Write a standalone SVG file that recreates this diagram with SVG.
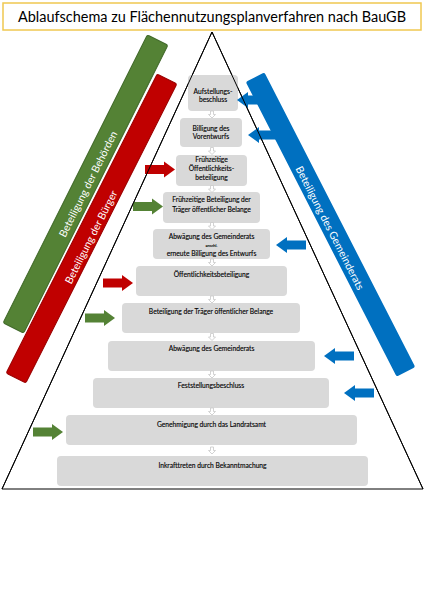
<svg xmlns="http://www.w3.org/2000/svg" width="424" height="600" viewBox="0 0 424 600">
<defs>
<style>
.box{fill:#d9d9d9;}
.t{font-family:Lato,"Liberation Sans",sans-serif;font-size:6.7px;fill:#000000;text-anchor:middle;stroke:#000000;stroke-width:0.12px;}
.s{font-size:4px;}
.bt{font-family:Lato,"Liberation Sans",sans-serif;font-size:10.5px;fill:#ffffff;text-anchor:middle;}
.tri{fill:none;stroke:#000;stroke-width:1;}
.down{fill:#ffffff;stroke:#c8c8c8;stroke-width:0.8;}
.red{fill:#c00000;}
.green{fill:#548235;}
.blue{fill:#0070c0;}
</style>
<path id="arr" d="M0,-4.5 H19 V-8 L30,0 L19,8 V4.5 H0 Z"/>
<path id="dn" d="M-1.5,-3.5 H1.5 V0 H3.5 L0,3.5 L-3.5,0 H-1.5 Z"/>
</defs>
<rect x="0" y="0" width="424" height="600" fill="#ffffff"/>
<g id="title">
<rect x="3" y="3" width="418" height="27" fill="#ffffff" stroke="#f0c850" stroke-width="1.5"/>
<text x="212" y="21.5" font-family="Lato,'Liberation Sans',sans-serif" font-size="14.5" fill="#000" text-anchor="middle" textLength="388" lengthAdjust="spacingAndGlyphs">Ablaufschema zu Flächennutzungsplanverfahren nach BauGB</text>
</g>
<g id="triangle">
<polygon class="tri" points="212,32 2,489 423,489"/>
</g>
<g id="bar-behoerden">
<rect class="green" x="-161" y="-11.5" width="322" height="23" rx="2" transform="translate(85.5,184) rotate(-63.4)" stroke="#41692a" stroke-width="1"/>
<text class="bt" transform="translate(88,184) rotate(-63.4)" y="3.8">Beteiligung der Behörden</text>
</g>
<g id="bar-buerger">
<rect class="red" x="-167.5" y="-11" width="335" height="22" rx="2" transform="translate(91.5,228.5) rotate(-63.2)" stroke="#9a0000" stroke-width="1"/>
<text class="bt" transform="translate(91,237) rotate(-63.2)" y="3.8">Beteiligung der Bürger</text>
</g>
<g id="bar-gemeinderat">
<rect class="blue" x="-165.5" y="-10.5" width="331" height="21" rx="2" transform="translate(330.5,224.5) rotate(62.9)"/>
<text class="bt" transform="translate(330,228) rotate(62.9)" y="3.8">Beteiligung des Gemeinderats</text>
</g>
<g id="n1"><rect class="box" x="188" y="75" width="50" height="36" rx="4"/><text class="t" x="213" y="93.5">Aufstellungs-</text><text class="t" x="213" y="101.5">beschluss</text></g>
<g id="n2"><rect class="box" x="180" y="118" width="62" height="29" rx="4"/><text class="t" x="211" y="130.5">Billigung des</text><text class="t" x="211" y="138.5">Vorentwurfs</text></g>
<g id="n3"><rect class="box" x="176" y="155" width="71" height="31" rx="4"/><text class="t" x="211.5" y="162">Frühzeitige</text><text class="t" x="211.5" y="171">Öffentlichkeits-</text><text class="t" x="211.5" y="180">beteiligung</text></g>
<g id="n4"><rect class="box" x="163" y="192" width="97" height="31" rx="4"/><text class="t" x="211.5" y="202">Frühzeitige Beteiligung der</text><text class="t" x="211.5" y="211.5">Träger öffentlicher Belange</text></g>
<g id="n5"><rect class="box" x="153" y="229" width="117" height="30" rx="4"/><text class="t" x="211.5" y="239">Abwägung des Gemeinderats</text><text class="t s" x="211.5" y="246.5">anschl.</text><text class="t" x="211.5" y="255.5">erneute Billigung des Entwurfs</text></g>
<g id="n6"><rect class="box" x="136" y="266" width="151" height="30" rx="4"/><text class="t" x="211.5" y="276.5">Öffentlichkeitsbeteiligung</text></g>
<g id="n7"><rect class="box" x="122" y="303" width="178" height="30" rx="4"/><text class="t" x="211" y="314">Beteiligung der Träger öffentlicher Belange</text></g>
<g id="n8"><rect class="box" x="108" y="341" width="207" height="30" rx="4"/><text class="t" x="211.5" y="350.5">Abwägung des Gemeinderats</text></g>
<g id="n9"><rect class="box" x="93" y="378" width="236" height="30" rx="4"/><text class="t" x="211" y="387.5">Feststellungsbeschluss</text></g>
<g id="n10"><rect class="box" x="66" y="415" width="291" height="30" rx="4"/><text class="t" x="211.5" y="426.5">Genehmigung durch das Landratsamt</text></g>
<g id="n11"><rect class="box" x="57" y="456" width="311" height="30" rx="4"/><text class="t" x="212.5" y="468">Inkrafttreten durch Bekanntmachung</text></g>
<g id="connectors">
<use href="#dn" class="down" x="212" y="114.5"/>
<use href="#dn" class="down" x="212" y="151"/>
<use href="#dn" class="down" x="212" y="189"/>
<use href="#dn" class="down" x="212" y="226"/>
<use href="#dn" class="down" x="212" y="262.5"/>
<use href="#dn" class="down" x="212" y="299.5"/>
<use href="#dn" class="down" x="212" y="337"/>
<use href="#dn" class="down" x="212" y="374.5"/>
<use href="#dn" class="down" x="212" y="411.5"/>
<use href="#dn" class="down" x="212" y="450.5"/>
<use href="#arr" class="red" transform="translate(145,169.5)"/>
<use href="#arr" class="green" transform="translate(133,206.5)"/>
<use href="#arr" class="red" transform="translate(103,283)"/>
<use href="#arr" class="green" transform="translate(85,318)"/>
<use href="#arr" class="green" transform="translate(33,432)"/>
<use href="#arr" class="blue" transform="translate(267,100) scale(-1,1)"/>
<use href="#arr" class="blue" transform="translate(278,135) scale(-1,1)"/>
<use href="#arr" class="blue" transform="translate(306,245) scale(-1,1)"/>
<use href="#arr" class="blue" transform="translate(354,356) scale(-1,1)"/>
<use href="#arr" class="blue" transform="translate(374,393) scale(-1,1)"/>
</g>
<g id="triangle-edges">
<line class="tri" x1="212" y1="32" x2="2" y2="489"/>
<line class="tri" x1="212" y1="32" x2="423" y2="489"/>
</g>
</svg>
